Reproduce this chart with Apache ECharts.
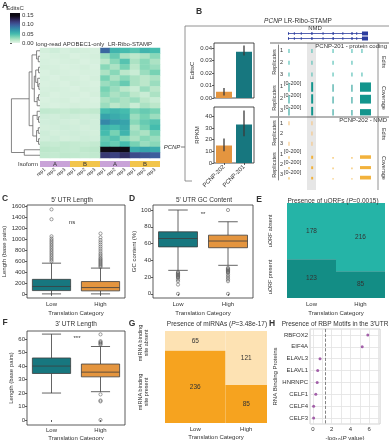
<!DOCTYPE html>
<html>
<head>
<meta charset="utf-8">
<script src="https://cdn.jsdelivr.net/npm/echarts@6/dist/echarts.min.js"></script>
<style>
  html, body { margin: 0; padding: 0; background: #fff; }
  #chart { width: 389px; height: 440px; }
</style>
</head>
<body>
<div id="chart"></div>
<script>
const FONT = '"Liberation Sans", Arial, Helvetica, sans-serif';
const INK = "#333";

// ---- A: edit heatmap ----
const heatCols = ["rep1", "rep2", "rep3", "rep1", "rep2", "rep3", "rep1", "rep2", "rep3", "rep1", "rep2", "rep3"];
const isoforms = ["A", "A", "A", "B", "B", "B", "A", "A", "A", "B", "B", "B"];
const apobecVals = [
  [0.006, 0.008, 0.005, 0.007, 0.006, 0.005],
  [0.004, 0.005, 0.006, 0.004, 0.005, 0.006],
  [0.005, 0.004, 0.005, 0.006, 0.004, 0.005],
  [0.006, 0.005, 0.004, 0.005, 0.006, 0.004],
  [0.004, 0.006, 0.005, 0.004, 0.005, 0.005],
  [0.005, 0.004, 0.006, 0.005, 0.004, 0.006],
  [0.004, 0.005, 0.004, 0.006, 0.005, 0.004],
  [0.005, 0.006, 0.005, 0.004, 0.006, 0.005],
  [0.006, 0.004, 0.005, 0.005, 0.004, 0.006],
  [0.004, 0.005, 0.006, 0.004, 0.005, 0.004],
  [0.005, 0.004, 0.005, 0.006, 0.005, 0.005],
  [0.013, 0.012, 0.011, 0.013, 0.012, 0.013],
  [0.008, 0.007, 0.009, 0.008, 0.007, 0.008],
  [0.007, 0.008, 0.007, 0.006, 0.008, 0.007],
  [0.006, 0.007, 0.008, 0.007, 0.006, 0.007],
  [0.008, 0.006, 0.007, 0.008, 0.007, 0.006],
  [0.007, 0.008, 0.006, 0.007, 0.008, 0.007],
  [0.012, 0.011, 0.013, 0.012, 0.011, 0.012],
  [0.015, 0.014, 0.013, 0.012, 0.014, 0.015],
  [0.013, 0.012, 0.014, 0.013, 0.012, 0.013]
];
const riboVals = [
  [0.095, 0.055, 0.05, 0.045, 0.055, 0.05],
  [0.025, 0.04, 0.02, 0.015, 0.02, 0.03],
  [0.015, 0.03, 0.045, 0.02, 0.03, 0.02],
  [0.03, 0.02, 0.035, 0.015, 0.03, 0.025],
  [0.02, 0.03, 0.015, 0.01, 0.025, 0.035],
  [0.035, 0.02, 0.03, 0.02, 0.015, 0.02],
  [0.025, 0.03, 0.04, 0.02, 0.015, 0.025],
  [0.035, 0.025, 0.015, 0.01, 0.025, 0.015],
  [0.03, 0.02, 0.025, 0.015, 0.01, 0.02],
  [0.02, 0.025, 0.02, 0.025, 0.015, 0.01],
  [0.025, 0.015, 0.02, 0.01, 0.02, 0.015],
  [0.05, 0.055, 0.05, 0.035, 0.04, 0.035],
  [0.065, 0.06, 0.055, 0.025, 0.035, 0.025],
  [0.08, 0.07, 0.065, 0.03, 0.04, 0.045],
  [0.055, 0.05, 0.06, 0.02, 0.035, 0.05],
  [0.05, 0.035, 0.055, 0.025, 0.02, 0.035],
  [0.04, 0.045, 0.03, 0.02, 0.03, 0.025],
  [0.045, 0.04, 0.05, 0.035, 0.025, 0.03],
  [0.155, 0.15, 0.15, 0.06, 0.065, 0.06],
  [0.12, 0.115, 0.125, 0.11, 0.105, 0.1]
];
const cbTicks = [0, 0.05, 0.1, 0.15];
const cbMax = 0.165;
const heatColors = ["#e3f4e8", "#b8e6c8", "#7dd4b5", "#45bcae", "#35a0ab", "#3581a7", "#3d5e9d", "#3b3e7d", "#29214a", "#0e0a14"];
// [left, right, height]; leaves are row numbers
const dendrogram = [
  [
    [[0, [1, 2, 0.06], 0.12], [[[3, 4, 0.05], [5, [6, 7, 0.04], 0.08], 0.15], [[8, 9, 0.05], 10, 0.1], 0.2], 0.28],
    [[11, [12, 13, 0.05], 0.1], [[14, 15, 0.06], [16, 17, 0.05], 0.12], 0.25],
    0.38
  ],
  [18, 19, 0.55],
  1.0
];

// ---- B: PCNP isoforms ----
const isoNames = ["PCNP-202", "PCNP-201"];
const editsC = [0.005, 0.037];
const editsCErr = [[0.002, 0.008], [0.034, 0.042]];
const editsCTicks = [0, 0.01, 0.02, 0.03, 0.04];
const rpkm = [15, 33];
const rpkmErr = [[10, 21], [23, 45]];
const rpkmTicks = [0, 10, 20, 30, 40];
const trackRows = ["1", "2", "3", "1", "2", "3"];
const geneSpan = [10.1, 90.9];
const geneExons = [[10.1, 11.1], [16, 17], [23, 24], [33.5, 35], [45, 46], [55, 56.5], [65, 66], [74, 75.5], [79, 80], [84.8, 90.9]];
const edits201 = [[11.1, 0], [34.3, 0], [55.6, 0], [74.7, 0], [84.8, 0], [11.1, 1], [34.3, 1], [55.6, 1], [74.7, 1], [11.1, 2], [34.3, 2], [55.6, 2], [74.7, 2], [84.8, 2]];
const cov201 = [
  [10.6, 11.6, 3, 170], [33.5, 35.5, 3, 190], [55.1, 56.1, 3, 150], [74.2, 75.2, 3, 140], [82.8, 93.9, 3, 185],
  [10.6, 11.6, 4, 160], [33.5, 35.5, 4, 185], [55.1, 56.1, 4, 140], [74.2, 75.2, 4, 130], [82.8, 93.9, 4, 175],
  [10.6, 11.6, 5, 140], [33.5, 35.5, 5, 170], [55.1, 56.1, 5, 120], [74.2, 75.2, 5, 110], [82.8, 93.9, 5, 125]
];
const edits202 = [[11.1, 0], [34.3, 0], [34.3, 1], [11.1, 2], [34.3, 2]];
const cov202 = [
  [10.6, 11.6, 3, 60], [33.5, 35.5, 3, 70], [55.1, 56.1, 3, 40], [74.2, 75.2, 3, 40], [82.8, 93.9, 3, 80],
  [10.6, 11.6, 4, 50], [33.5, 35.5, 4, 65], [55.1, 56.1, 4, 35], [74.2, 75.2, 4, 35], [82.8, 93.9, 4, 70],
  [10.6, 11.6, 5, 50], [33.5, 35.5, 5, 60], [55.1, 56.1, 5, 30], [74.2, 75.2, 5, 30], [82.8, 93.9, 5, 85]
];
const nmdBand = [29.3, 38.4];

// ---- C, D, F: box plots (min, Q1, median, Q3, max) ----
const cats = ["Low", "High"];
const utr5Len = [[0, 60, 135, 265, 560], [0, 55, 115, 225, 470]];
const utr5LenOut = [
  [590, 620, 650, 680, 710, 740, 770, 800, 830, 860, 890, 920, 950, 980, 1010, 1050, 1360, 1540],
  [490, 510, 530, 550, 570, 590, 610, 630, 650, 680, 710, 740, 780, 820, 860, 900, 940, 980, 1030, 1100]
];
const utr5LenTicks = [0, 200, 400, 600, 800, 1000, 1200, 1400, 1600];
const utr5GC = [[28, 56, 66, 74, 100], [34, 55, 63, 70, 86]];
const utr5GCOut = [
  [26, 25, 24, 23, 22, 21, 20, 19, 17, 15, 11, 0],
  [100, 31, 30, 29, 28, 27, 26, 25, 23, 21, 19, 17, 15, 0]
];
const utr5GCTicks = [0, 20, 40, 60, 80, 100];
const utr3Len = [[20, 34.5, 40, 46, 63.7], [21, 32, 35.5, 41.5, 54.5]];
const utr3LenOut = [[], [63.5, 58.5, 57.8, 57.2, 56.5, 55.8, 19, 14.5, 13.8, 0]];
const utr3LenTicks = [0, 10, 20, 30, 40, 50, 60];

// ---- E, G: mosaic counts ----
const uorfAbsent = [178, 216];
const uorfPresent = [123, 85];
const mirAbsent = [65, 121];
const mirPresent = [236, 85];

// ---- H: RBP motifs ----
const rbpNames = ["RBFOX2", "EIF4A", "ELAVL3", "ELAVL1", "HNRNPC", "CELF1", "CELF4", "CELF3"];
const rbpLogP = [5.85, 5.25, 0.75, 0.5, 0.45, 0.3, 0.07, 0.07];
const rbpTicks = [0, 2, 4, 6];
const rbpIdx = [0, 1, 2, 3, 4, 5, 6, 7];
const sigLine = 1.301;

const boxFill = ["#17777f", "#e4953f"];

// ---------- helpers ----------
const heatData = [];
riboVals.forEach((row, r) => {
  row.forEach((v, c) => {
    heatData.push([c, r, apobecVals[r][c]]);
    heatData.push([c + 6, r, v]);
  });
});

const dendroSegs = [];
function walk(n) {
  if (typeof n === "number") return [0, n + 0.5];
  const a = walk(n[0]);
  const b = walk(n[1]);
  const h = n[2];
  dendroSegs.push([a[0], a[1], h, a[1]], [b[0], b[1], h, b[1]], [h, a[1], h, b[1]]);
  return [h, (a[1] + b[1]) / 2];
}
walk(dendrogram);

function mosaic(absent, present) {
  const tot = absent.map((a, i) => a + present[i]);
  const sum = tot.reduce((s, v) => s + v, 0);
  let x = 0;
  const cells = [];
  const centers = [];
  tot.forEach((t, i) => {
    const w = t / sum;
    const f = absent[i] / t;
    cells.push([x, x + w, 0, f, absent[i], 0]);
    cells.push([x, x + w, f, 1, present[i], 1]);
    centers.push(x + w / 2);
    x += w;
  });
  return { cells, centers };
}
const uorfMosaic = mosaic(uorfAbsent, uorfPresent);
const mirMosaic = mosaic(mirAbsent, mirPresent);

function grid(left, top, width, height, border) {
  return {
    left, top, width, height, containLabel: false, outerBoundsMode: "none",
    show: !!border, borderColor: border || "transparent", borderWidth: 0.8, backgroundColor: "transparent"
  };
}

const lblStyle = { fontSize: 6, color: INK, fontFamily: FONT };
const nameStyle = { fontSize: 6, color: INK, fontFamily: FONT };

function vAxis(gi, min, max, ticks, extra) {
  return Object.assign({
    type: "value", gridIndex: gi, min, max,
    axisLine: { show: false },
    axisTick: { show: true, length: 2, customValues: ticks, lineStyle: { color: INK, width: 0.8 } },
    axisLabel: Object.assign({ customValues: ticks, margin: 2, formatter: v => String(v) }, lblStyle),
    splitLine: { show: false },
    nameLocation: "middle", nameTextStyle: nameStyle
  }, extra || {});
}

function catAxis(gi, data, extra) {
  return Object.assign({
    type: "category", gridIndex: gi, data,
    axisLine: { show: false },
    axisTick: { show: true, length: 2, alignWithLabel: true, lineStyle: { color: INK, width: 0.8 } },
    axisLabel: Object.assign({ margin: 3, interval: 0 }, lblStyle),
    splitLine: { show: false },
    nameLocation: "middle", nameTextStyle: nameStyle
  }, extra || {});
}

function hidden(type, gi, extra) {
  return Object.assign({ type, gridIndex: gi, show: false }, extra || {});
}

function lineItem(params, api) {
  const a = api.coord([api.value(0), api.value(1)]);
  const b = api.coord([api.value(2), api.value(3)]);
  return { type: "line", shape: { x1: a[0], y1: a[1], x2: b[0], y2: b[1] }, style: { stroke: "#666", lineWidth: 0.8 } };
}

function errItem(params, api) {
  const a = api.coord([api.value(0), api.value(1)]);
  const b = api.coord([api.value(0), api.value(2)]);
  return { type: "line", shape: { x1: a[0], y1: a[1], x2: b[0], y2: b[1] }, style: { stroke: "#3a3a3a", lineWidth: 1.3 } };
}

function boxItem(params, api) {
  const i = api.value(0);
  const pts = [1, 2, 3, 4, 5].map(k => api.coord([i, api.value(k)]));
  const cx = pts[0][0];
  const w = api.size([1, 0])[0] * 0.78;
  const cap = w * 0.25;
  const st = { stroke: "#3d3d3d", lineWidth: 0.8 };
  return {
    type: "group",
    children: [
      { type: "line", shape: { x1: cx, y1: pts[0][1], x2: cx, y2: pts[1][1] }, style: st },
      { type: "line", shape: { x1: cx, y1: pts[3][1], x2: cx, y2: pts[4][1] }, style: st },
      { type: "line", shape: { x1: cx - cap, y1: pts[0][1], x2: cx + cap, y2: pts[0][1] }, style: st },
      { type: "line", shape: { x1: cx - cap, y1: pts[4][1], x2: cx + cap, y2: pts[4][1] }, style: st },
      { type: "rect", shape: { x: cx - w / 2, y: pts[3][1], width: w, height: pts[1][1] - pts[3][1] }, style: { fill: boxFill[i], stroke: "#3d3d3d", lineWidth: 0.8 } },
      { type: "line", shape: { x1: cx - w / 2, y1: pts[2][1], x2: cx + w / 2, y2: pts[2][1] }, style: st }
    ]
  };
}

function mosaicItem(colors) {
  return (params, api) => {
    const p0 = api.coord([api.value(0), api.value(2)]);
    const p1 = api.coord([api.value(1), api.value(3)]);
    return {
      type: "group",
      children: [
        { type: "rect", shape: { x: Math.min(p0[0], p1[0]), y: Math.min(p0[1], p1[1]), width: Math.abs(p1[0] - p0[0]), height: Math.abs(p1[1] - p0[1]) }, style: { fill: colors[api.value(5)] } },
        { type: "text", x: (p0[0] + p1[0]) / 2, y: (p0[1] + p1[1]) / 2, style: { text: String(api.value(4)), fontSize: 6.5, fontFamily: FONT, fill: INK, align: "center", verticalAlign: "middle" } }
      ]
    };
  };
}

function trackItem(editColor, covColor) {
  return (params, api) => {
    const kind = api.value(4);
    const p0 = api.coord([api.value(0), api.value(2)]);
    const p1 = api.coord([api.value(1), api.value(2)]);
    const bh = api.size([0, 1])[1];
    if (kind === 0) {
      return { type: "rect", shape: { x: p0[0] - 0.6, y: p0[1] - 2, width: 1.2, height: 4 }, style: { fill: editColor } };
    }
    const h = api.value(3) / 200 * bh * 0.85;
    const base = p0[1] + bh * 0.45;
    return { type: "rect", shape: { x: p0[0], y: base - h, width: Math.max(p1[0] - p0[0], 0.8), height: h }, style: { fill: covColor } };
  };
}

function bandItem(extraBottom) {
  return (params, api) => {
    const a = api.coord([api.value(0), 0]);
    const b = api.coord([api.value(1), 0]);
    const cs = params.coordSys;
    return { type: "rect", shape: { x: a[0], y: cs.y - 2, width: b[0] - a[0], height: cs.height + 2 + extraBottom }, style: { fill: "#e6e6e6" } };
  };
}

function geneItem(params, api) {
  const kind = api.value(3);
  const a = api.coord([api.value(0), api.value(2)]);
  const b = api.coord([api.value(1), api.value(2)]);
  const col = "#2b3c9e";
  if (kind === 0) return { type: "line", shape: { x1: a[0], y1: a[1], x2: b[0], y2: b[1] }, style: { stroke: col, lineWidth: 0.8 } };
  const h = kind === 2 ? 4 : 2.4;
  return { type: "rect", shape: { x: a[0], y: a[1] - h / 2, width: Math.max(b[0] - a[0], 1), height: h }, style: { fill: col } };
}

const geneData = [];
[0, 1].forEach(r => {
  geneData.push([geneSpan[0], geneSpan[1], r, 0]);
  geneExons.forEach((e, k) => geneData.push([e[0], e[1], r, k === geneExons.length - 1 ? 2 : 1]));
});
const track201 = edits201.map(e => [e[0], e[0], e[1], 0, 0]).concat(cov201.map(c => [c[0], c[1], c[2], c[3], 1]));
const track202 = edits202.map(e => [e[0], e[0], e[1], 0, 0]).concat(cov202.map(c => [c[0], c[1], c[2], c[3], 1]));

function txt(x, y, text, o) {
  o = o || {};
  const size = o.size || 6;
  const base = { fontSize: size, fontFamily: FONT, fontWeight: o.bold ? "bold" : "normal", fontStyle: o.italic ? "italic" : "normal", fill: o.color || INK };
  const style = Object.assign({ text, align: o.align || "center", verticalAlign: o.va || "middle" }, base);
  if (o.rich) {
    style.rich = {};
    Object.keys(o.rich).forEach(k => { style.rich[k] = Object.assign({}, base, o.rich[k]); });
  }
  return { type: "text", x, y, rotation: o.rot || 0, style, silent: true, z: 10 };
}
function ln(points, color, w) {
  return { type: "polyline", shape: { points }, style: { stroke: color || "#555", lineWidth: w || 0.8, fill: null }, silent: true, z: 10 };
}
const UP = Math.PI / 2;
const DOWN = -Math.PI / 2;
const titleRich = { i: { fontStyle: "italic", fontSize: 6.5 } };

const chart = echarts.init(document.getElementById("chart"), null, { renderer: "canvas" });

chart.setOption({
  animation: false,
  backgroundColor: "#fff",
  grid: [
    grid(40, 48, 120, 110),          // 0 heatmap
    grid(40, 161, 120, 6),           // 1 isoform bar
    grid(10, 48, 30, 110),           // 2 dendrogram
    grid(10, 13, 10, 30),            // 3 colour bar
    grid(214, 43, 40, 55, "#222"),   // 4 EditsC
    grid(214, 107, 40, 56, "#222"),  // 5 RPKM
    grid(278, 31, 99, 10),           // 6 gene model
    grid(278, 45, 99, 71),           // 7 tracks 201
    grid(278, 118, 99, 62),          // 8 tracks 202
    grid(27, 205, 98, 93, "#333"),   // 9 C
    grid(153, 205, 100, 93, "#333"), // 10 D
    grid(287, 203, 98, 95),          // 11 E
    grid(27, 331, 98, 94, "#333"),   // 12 F
    grid(165, 331, 102, 92),         // 13 G
    grid(310, 329, 70, 95, "#c8c8c8") // 14 H
  ],
  visualMap: {
    show: false, type: "continuous", min: 0, max: 0.15, seriesIndex: 0, dimension: 2,
    inRange: { color: heatColors }
  },
  xAxis: [
    hidden("category", 0, { data: heatCols }),
    catAxis(1, heatCols, { axisTick: { show: false }, axisLabel: Object.assign({}, lblStyle, { fontSize: 5, rotate: 40, margin: 2, interval: 0 }) }),
    hidden("value", 2, { min: 0, max: 1.05, inverse: true }),
    hidden("value", 3, { min: 0, max: 1 }),
    catAxis(4, isoNames, { axisTick: { show: false }, axisLabel: { show: false } }),
    catAxis(5, isoNames, { axisLabel: Object.assign({}, lblStyle, { rotate: 45, margin: 3, interval: 0 }) }),
    hidden("value", 6, { min: 0, max: 100 }),
    hidden("value", 7, { min: 0, max: 100 }),
    hidden("value", 8, { min: 0, max: 100 }),
    catAxis(9, cats, { name: "Translation Category", nameGap: 12 }),
    catAxis(10, cats, { name: "Translation Category", nameGap: 12 }),
    {
      type: "value", gridIndex: 11, min: 0, max: 1,
      axisLine: { show: false }, axisTick: { show: false }, splitLine: { show: false },
      axisLabel: Object.assign({ customValues: uorfMosaic.centers, margin: 3, formatter: v => v < 0.5 ? cats[0] : cats[1] }, lblStyle),
      name: "Translation Category", nameLocation: "middle", nameGap: 12, nameTextStyle: nameStyle
    },
    catAxis(12, cats, { name: "Translation Category", nameGap: 10, axisLabel: Object.assign({}, lblStyle, { margin: 2 }) }),
    {
      type: "value", gridIndex: 13, min: 0, max: 1,
      axisLine: { show: false }, axisTick: { show: false }, splitLine: { show: false },
      axisLabel: Object.assign({ customValues: mirMosaic.centers, margin: 3, formatter: v => v < mirMosaic.centers[1] - 0.01 ? cats[0] : cats[1] }, lblStyle),
      name: "Translation Category", nameLocation: "middle", nameGap: 11, nameTextStyle: nameStyle
    },
    vAxis(14, -0.32, 7.15, rbpTicks, {
      axisTick: { show: false },
      splitLine: { show: true, lineStyle: { color: "#e2e2e2", width: 0.8 } },
      name: "-log{s|10}({i|P} value)", nameGap: 10,
      nameTextStyle: Object.assign({}, nameStyle, {
        rich: {
          s: { fontSize: 4.5, fontFamily: FONT, color: INK, verticalAlign: "bottom", padding: [4, 0, 0, 0] },
          i: { fontSize: 6, fontFamily: FONT, color: INK, fontStyle: "italic" }
        }
      })
    })
  ],
  yAxis: [
    hidden("category", 0, { data: riboVals.map((_, i) => "row" + i), inverse: true }),
    hidden("value", 1, { min: 0, max: 1 }),
    hidden("value", 2, { min: 0, max: 20, inverse: true }),
    vAxis(3, 0, cbMax, cbTicks, {
      position: "right",
      axisLabel: Object.assign({ customValues: cbTicks, margin: 2, formatter: v => v.toFixed(2) }, lblStyle)
    }),
    vAxis(4, 0, 0.044, editsCTicks, {
      axisLabel: Object.assign({ customValues: editsCTicks, margin: 2, formatter: v => v.toFixed(2) }, lblStyle),
      name: "EditsC", nameGap: 19
    }),
    vAxis(5, 0, 48, rpkmTicks, { name: "RPKM", nameGap: 14 }),
    hidden("category", 6, { data: ["PCNP-201", "PCNP-202"], inverse: true }),
    {
      type: "category", gridIndex: 7, data: trackRows, inverse: true,
      axisLine: { show: true, lineStyle: { color: "#666", width: 0.8 } }, axisTick: { show: false },
      axisLabel: Object.assign({ inside: true, margin: 2, formatter: (v, i) => i >= 3 ? v + "{r|[0-200]}" : v,
        rich: { r: { fontSize: 5.5, fontFamily: FONT, color: INK, padding: [0, 0, 5, 1] } } }, lblStyle, { fontSize: 5.5 })
    },
    {
      type: "category", gridIndex: 8, data: trackRows, inverse: true,
      axisLine: { show: true, lineStyle: { color: "#666", width: 0.8 } }, axisTick: { show: false },
      axisLabel: Object.assign({ inside: true, margin: 2, formatter: (v, i) => i >= 3 ? v + "{r|[0-200]}" : v,
        rich: { r: { fontSize: 5.5, fontFamily: FONT, color: INK, padding: [0, 0, 5, 1] } } }, lblStyle, { fontSize: 5.5 })
    },
    vAxis(9, -75, 1620, utr5LenTicks, { name: "Length (base pairs)", nameGap: 18 }),
    vAxis(10, -5, 106, utr5GCTicks, { name: "GC content (%)", nameGap: 14 }),
    hidden("value", 11, { min: 0, max: 1, inverse: true }),
    vAxis(12, -3.7, 66, utr3LenTicks, { name: "Length (base pairs)", nameGap: 13 }),
    hidden("value", 13, { min: 0, max: 1, inverse: true }),
    vAxis(14, -0.5, 7.5, rbpIdx, {
      inverse: true,
      axisTick: { show: false, customValues: rbpIdx },
      axisLabel: Object.assign({ customValues: rbpIdx, margin: 2, formatter: v => rbpNames[v] || "" }, lblStyle),
      splitLine: { show: true, lineStyle: { color: "#e2e2e2", width: 0.8 } },
      name: "RNA Binding Proteins", nameGap: 22
    })
  ],
  series: [
    { type: "heatmap", xAxisIndex: 0, yAxisIndex: 0, data: heatData, emphasis: { disabled: true } },
    {
      type: "bar", xAxisIndex: 1, yAxisIndex: 1, barWidth: "100%", barCategoryGap: 0,
      data: isoforms.map((iso, i) => ({
        value: 1,
        itemStyle: { color: iso === "A" ? "#c9a3d8" : "#f2c54c" },
        label: { show: i % 3 === 1, position: "inside", formatter: iso, fontSize: 6, color: INK, fontFamily: FONT }
      }))
    },
    { type: "custom", xAxisIndex: 2, yAxisIndex: 2, data: dendroSegs, encode: { x: [0, 2], y: [1, 3] }, renderItem: lineItem },
    {
      type: "custom", xAxisIndex: 3, yAxisIndex: 3, data: [[0, 1, 0, cbMax]], encode: { x: [0, 1], y: [2, 3] },
      renderItem: (params, api) => {
        const a = api.coord([api.value(0), api.value(2)]);
        const b = api.coord([api.value(1), api.value(3)]);
        const f = 0.15 / cbMax;
        const stops = heatColors.map((c, i) => ({ offset: i / (heatColors.length - 1) * f, color: c }));
        stops.push({ offset: 1, color: heatColors[heatColors.length - 1] });
        return { type: "rect", shape: { x: a[0], y: b[1], width: b[0] - a[0], height: a[1] - b[1] },
          style: { fill: new echarts.graphic.LinearGradient(0, 1, 0, 0, stops) } };
      }
    },
    {
      type: "bar", xAxisIndex: 4, yAxisIndex: 4, barWidth: "80%",
      data: editsC.map((v, i) => ({ value: v, itemStyle: { color: boxFill[1 - i] } }))
    },
    { type: "custom", xAxisIndex: 4, yAxisIndex: 4, data: editsCErr.map((e, i) => [i, e[0], e[1]]), encode: { x: 0, y: [1, 2] }, renderItem: errItem, z: 5 },
    {
      type: "bar", xAxisIndex: 5, yAxisIndex: 5, barWidth: "80%",
      data: rpkm.map((v, i) => ({ value: v, itemStyle: { color: boxFill[1 - i] } }))
    },
    { type: "custom", xAxisIndex: 5, yAxisIndex: 5, data: rpkmErr.map((e, i) => [i, e[0], e[1]]), encode: { x: 0, y: [1, 2] }, renderItem: errItem, z: 5 },
    { type: "custom", xAxisIndex: 6, yAxisIndex: 6, data: geneData, encode: { x: [0, 1], y: 2 }, renderItem: geneItem },
    { type: "custom", xAxisIndex: 7, yAxisIndex: 7, data: [[nmdBand[0], nmdBand[1], 0]], encode: { x: [0, 1], y: 2 }, renderItem: bandItem(2), z: 1 },
    { type: "custom", xAxisIndex: 7, yAxisIndex: 7, data: track201, encode: { x: [0, 1], y: 2 }, renderItem: trackItem("#5cc2b8", "#12958d"), z: 3 },
    { type: "custom", xAxisIndex: 8, yAxisIndex: 8, data: [[nmdBand[0], nmdBand[1], 0]], encode: { x: [0, 1], y: 2 }, renderItem: bandItem(10), z: 1 },
    { type: "custom", xAxisIndex: 8, yAxisIndex: 8, data: track202, encode: { x: [0, 1], y: 2 }, renderItem: trackItem("#f5c88a", "#f2b23c"), z: 3 },
    { type: "custom", xAxisIndex: 9, yAxisIndex: 9, data: utr5Len.map((d, i) => [i].concat(d)), encode: { x: 0, y: [1, 2, 3, 4, 5] }, renderItem: boxItem },
    {
      type: "scatter", xAxisIndex: 9, yAxisIndex: 9, symbolSize: 3.2,
      itemStyle: { color: "rgba(255,255,255,0)", borderColor: "#555", borderWidth: 0.7 },
      data: utr5LenOut.flatMap((arr, i) => arr.map(v => [i, v]))
    },
    { type: "custom", xAxisIndex: 10, yAxisIndex: 10, data: utr5GC.map((d, i) => [i].concat(d)), encode: { x: 0, y: [1, 2, 3, 4, 5] }, renderItem: boxItem },
    {
      type: "scatter", xAxisIndex: 10, yAxisIndex: 10, symbolSize: 3.2,
      itemStyle: { color: "rgba(255,255,255,0)", borderColor: "#555", borderWidth: 0.7 },
      data: utr5GCOut.flatMap((arr, i) => arr.map(v => [i, v]))
    },
    { type: "custom", xAxisIndex: 11, yAxisIndex: 11, data: uorfMosaic.cells, encode: { x: [0, 1], y: [2, 3] }, renderItem: mosaicItem(["#25b4a7", "#138d85"]) },
    { type: "custom", xAxisIndex: 12, yAxisIndex: 12, data: utr3Len.map((d, i) => [i].concat(d)), encode: { x: 0, y: [1, 2, 3, 4, 5] }, renderItem: boxItem },
    {
      type: "scatter", xAxisIndex: 12, yAxisIndex: 12, symbolSize: 3.2,
      itemStyle: { color: "rgba(255,255,255,0)", borderColor: "#555", borderWidth: 0.7 },
      data: utr3LenOut.flatMap((arr, i) => arr.map(v => [i, v]))
    },
    { type: "custom", xAxisIndex: 13, yAxisIndex: 13, data: mirMosaic.cells, encode: { x: [0, 1], y: [2, 3] }, renderItem: mosaicItem(["#fde2b3", "#f6a31f"]) },
    {
      type: "scatter", xAxisIndex: 14, yAxisIndex: 14, symbolSize: 3, itemStyle: { color: "#8e3b96" },
      data: rbpLogP.map((p, i) => [p, i]),
      markLine: { silent: true, symbol: "none", label: { show: false }, lineStyle: { type: "dashed", color: "#666", width: 0.8 }, data: [{ xAxis: sigLine }] }
    }
  ],
  graphic: [
    // A
    txt(5, 6, "A", { bold: true, size: 8.5 }),
    txt(15, 8, "EditsC"),
    txt(70, 44, "long-read APOBEC1-only"),
    txt(130, 44, "LR-Ribo-STAMP"),
    txt(38, 164, "Isoform", { align: "right" }),
    txt(172, 147, "PCNP", { italic: true }),
    ln([[181, 147], [185, 147]]),
    // B
    txt(199, 12, "B", { bold: true, size: 8.5 }),
    txt(298, 21, "{i|PCNP} LR-Ribo-STAMP", { size: 6.5, rich: titleRich }),
    ln([[389, 26], [185, 26], [185, 181], [192, 181]], "#777"),
    txt(315, 28, "NMD"),
    ln([[270, 43], [389, 43]], "#444"),
    ln([[270, 117], [389, 117]], "#444"),
    ln([[378, 43], [378, 190]], "#777"),
    txt(387, 46.5, "PCNP-201 - protein coding", { align: "right" }),
    txt(387, 120, "PCNP-202 - NMD", { align: "right" }),
    txt(274, 62, "Replicates", { rot: UP, size: 5.5 }),
    txt(274, 98, "Replicates", { rot: UP, size: 5.5 }),
    txt(274, 133, "Replicates", { rot: UP, size: 5.5 }),
    txt(274, 165, "Replicates", { rot: UP, size: 5.5 }),
    txt(384, 62, "Edits", { rot: DOWN, size: 5.5 }),
    txt(384, 98, "Coverage", { rot: DOWN, size: 5.5 }),
    txt(384, 134, "Edits", { rot: DOWN, size: 5.5 }),
    txt(384, 168, "Coverage", { rot: DOWN, size: 5.5 }),
    // C
    txt(5, 199, "C", { bold: true, size: 8.5 }),
    txt(72, 200, "5' UTR Length", { size: 6.5 }),
    txt(72, 222, "ns"),
    // D
    txt(132, 199, "D", { bold: true, size: 8.5 }),
    txt(204, 200, "5' UTR GC Content", { size: 6.5 }),
    txt(203, 214, "**"),
    // E
    txt(259, 200, "E", { bold: true, size: 8.5 }),
    txt(333, 201, "Presence of uORFs ({i|P}=0.0015)", { size: 6.5, rich: titleRich }),
    txt(270, 231, "uORF absent", { rot: UP, size: 5.5 }),
    txt(270, 277, "uORF present", { rot: UP, size: 5.5 }),
    // F
    txt(5, 323, "F", { bold: true, size: 8.5 }),
    txt(76, 324, "3' UTR Length", { size: 6.5 }),
    txt(77, 338, "***"),
    // G
    txt(132, 324, "G", { bold: true, size: 8.5 }),
    txt(217, 324, "Presence of miRNAs ({i|P}=3.48e-17)", { size: 6.5, rich: titleRich }),
    txt(143, 343, "miRNA binding\nsite absent", { rot: UP, size: 5.5 }),
    txt(143, 392, "miRNA binding\nsite present", { rot: UP, size: 5.5 }),
    // H
    txt(272, 324, "H", { bold: true, size: 8.5 }),
    txt(335, 324, "Presence of RBP Motifs in the 3'UTR", { size: 6.5 })
  ]
});
</script>
</body>
</html>
